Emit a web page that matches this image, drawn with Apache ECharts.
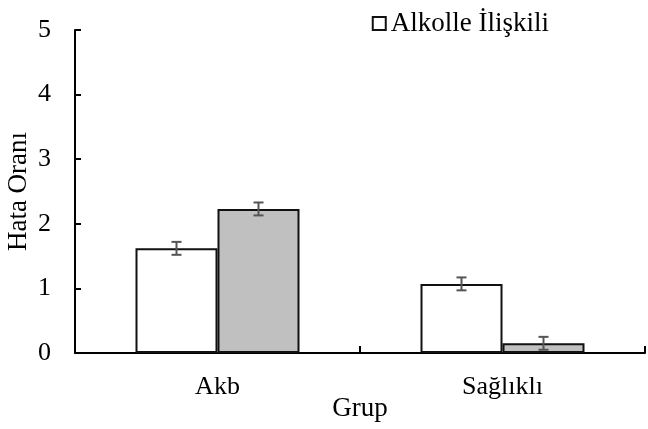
<!DOCTYPE html>
<html>
<head>
<meta charset="utf-8">
<script src="https://cdn.jsdelivr.net/npm/echarts@6/dist/echarts.min.js"></script>
<style>
html,body{margin:0;padding:0;background:#fff;}
#main{width:648px;height:429px;}
</style>
</head>
<body>
<div id="main"></div>
<script>
var groups = ['Akb', 'Sağlıklı'];
var alkolVals = [1.62, 1.07];
var alkolErr = [0.1, 0.1];
var otherVals = [2.23, 0.15];
var otherErr = [0.1, 0.1];
var yTicks = [0, 1, 2, 3, 4, 5];

var font = 'Liberation Serif';
var myChart = echarts.init(document.getElementById('main'));

// hata çubukları
function errSeries(vals, errs, offset) {
    var data = [];
    for (var i = 0; i < vals.length; i++) {
        data.push([i, vals[i] - errs[i], vals[i] + errs[i]]);
    }
    return {
        type: 'custom',
        z: 10,
        data: data,
        encode: { x: 0, y: [1, 2] },
        renderItem: function (params, api) {
            var lo = api.coord([api.value(0), api.value(1)]);
            var hi = api.coord([api.value(0), api.value(2)]);
            var x = lo[0] + offset;
            var w = 5;
            var st = { stroke: '#555', lineWidth: 2 };
            return {
                type: 'group',
                children: [
                    { type: 'line', shape: { x1: x, y1: lo[1], x2: x, y2: hi[1] }, style: st },
                    { type: 'line', shape: { x1: x - w, y1: lo[1], x2: x + w, y2: lo[1] }, style: st },
                    { type: 'line', shape: { x1: x - w, y1: hi[1], x2: x + w, y2: hi[1] }, style: st }
                ]
            };
        }
    };
}

var option = {
    animation: false,
    backgroundColor: '#fff',
    grid: { left: 75, right: 3, top: 30, bottom: 76, containLabel: false, outerBoundsMode: 'none' },
    legend: {
        data: [{ name: 'Alkolle İlişkili', icon: 'rect' }],
        right: 94,
        top: 5,
        itemWidth: 13,
        itemHeight: 13,
        itemGap: 4,
        textStyle: { fontFamily: font, fontSize: 27, color: '#000' }
    },
    xAxis: {
        type: 'category',
        data: groups,
        name: 'Grup',
        nameLocation: 'middle',
        nameGap: 42,
        nameMoveOverlap: false,
        nameTextStyle: { fontFamily: font, fontSize: 27, color: '#000' },
        axisLine: { lineStyle: { color: '#000', width: 2 } },
        axisTick: { show: true, inside: true, length: 7, lineStyle: { color: '#000', width: 2 } },
        axisLabel: { fontFamily: font, fontSize: 26, color: '#000', margin: 21 }
    },
    yAxis: {
        type: 'value',
        min: yTicks[0],
        max: yTicks[yTicks.length - 1],
        interval: 1,
        name: 'Hata Oranı',
        nameLocation: 'middle',
        nameGap: 43,
        nameRotate: 90,
        nameMoveOverlap: false,
        nameTextStyle: { fontFamily: font, fontSize: 27, color: '#000' },
        axisLine: { show: true, lineStyle: { color: '#000', width: 2 } },
        axisTick: { show: true, inside: true, length: 6, lineStyle: { color: '#000', width: 2 } },
        axisLabel: { fontFamily: font, fontSize: 26, color: '#000', margin: 24 },
        splitLine: { show: false }
    },
    series: [
        {
            name: 'Alkolle İlişkili',
            type: 'bar',
            data: alkolVals,
            barWidth: 82,
            barGap: '0%',
            itemStyle: { color: '#fff', borderColor: '#111', borderWidth: 2 }
        },
        {
            name: 'Diğer',
            type: 'bar',
            data: otherVals,
            barWidth: 82,
            barGap: '0%',
            itemStyle: { color: '#c0c0c0', borderColor: '#111', borderWidth: 2 }
        },
        errSeries(alkolVals, alkolErr, -41),
        errSeries(otherVals, otherErr, 41)
    ]
};
myChart.setOption(option);
</script>
</body>
</html>
